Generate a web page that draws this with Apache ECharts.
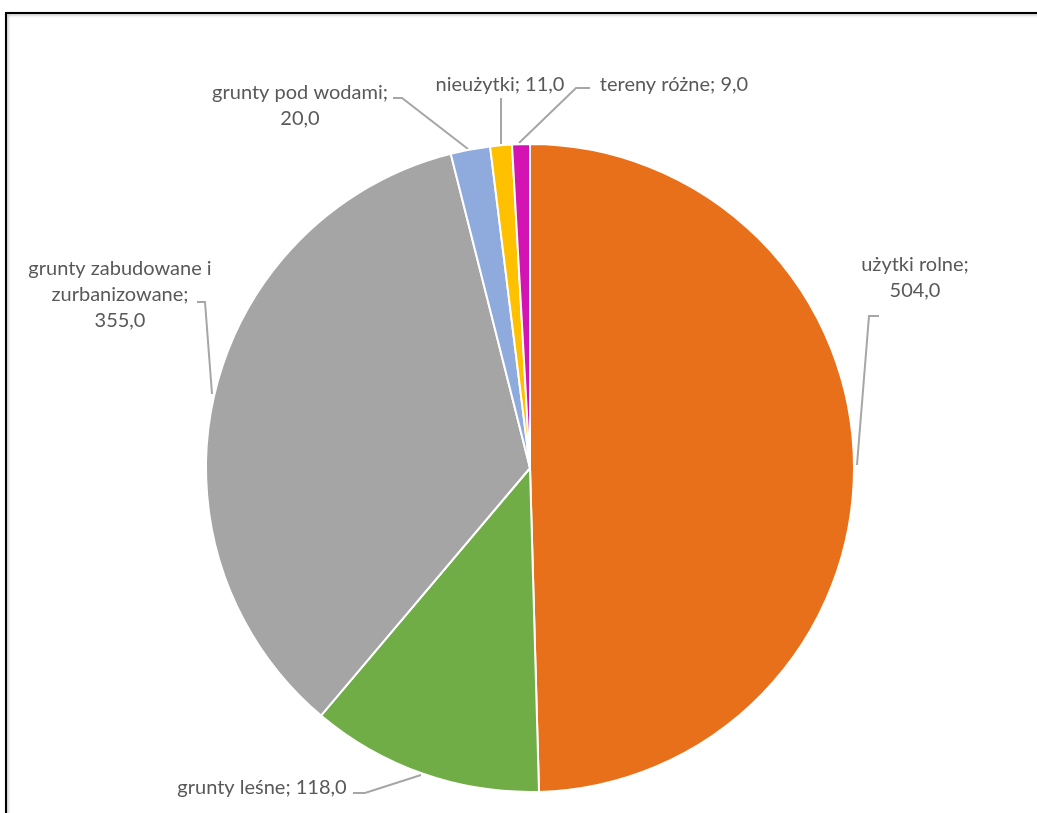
<!DOCTYPE html>
<html>
<head>
<meta charset="utf-8">
<script src="https://cdn.jsdelivr.net/npm/echarts@6/dist/echarts.min.js"></script>
<style>
html,body{margin:0;padding:0;background:#fff;}
#chart{width:1037px;height:813px;}
</style>
</head>
<body>
<div id="chart"></div>
<script>
const categories = ['użytki rolne', 'grunty leśne', 'grunty zabudowane i zurbanizowane', 'grunty pod wodami', 'nieużytki', 'tereny różne'];
const values = [504.0, 118.0, 355.0, 20.0, 11.0, 9.0];
const colors = ['#E8701A', '#70AD47', '#A5A5A5', '#8FAADC', '#FFC000', '#D413B3'];
const labelTexts = [
  'użytki rolne;\n504,0',
  'grunty leśne; 118,0',
  'grunty zabudowane i\nzurbanizowane;\n355,0',
  'grunty pod wodami;\n20,0',
  'nieużytki; 11,0',
  'tereny różne; 9,0'
];

// label placement (layout only)
const labelPos = [
  {x: 915, y: 278, lines: [[857, 465], [869, 316], [879, 316]]},
  {x: 262, y: 788, lines: [[421, 775], [365, 793], [353, 793]]},
  {x: 120, y: 295, lines: [[212, 394], [205, 302], [197, 302]]},
  {x: 300, y: 106, lines: [[468, 149], [402, 98], [393, 98]]},
  {x: 500, y: 85, lines: [[501, 144], [501, 98], [501, 98]]},
  {x: 674, y: 85, lines: [[519, 143], [576, 88], [590, 88]]}
];

const chart = echarts.init(document.getElementById('chart'));
chart.setOption({
  animation: false,
  backgroundColor: '#ffffff',
  graphic: [{
    type: 'rect',
    shape: {x: 6, y: 13, width: 1040, height: 820},
    style: {fill: 'none', stroke: '#000000', lineWidth: 2, shadowBlur: 3, shadowColor: 'rgba(0,0,0,0.35)', shadowOffsetX: 1, shadowOffsetY: 1},
    z: 10
  }],
  series: [{
    type: 'pie',
    center: [530, 468],
    radius: 324,
    startAngle: 90,
    clockwise: true,
    avoidLabelOverlap: false,
    itemStyle: {borderColor: '#ffffff', borderWidth: 2},
    label: {
      show: true,
      formatter: p => labelTexts[p.dataIndex],
      fontFamily: 'Lato, "Open Sans", sans-serif',
      fontSize: 20,
      lineHeight: 26,
      color: '#595959',
      align: 'center'
    },
    labelLine: {
      show: true,
      lineStyle: {color: '#A6A6A6', width: 2}
    },
    labelLayout: function (params) {
      const p = labelPos[params.dataIndex];
      return {
        x: p.x,
        y: p.y,
        align: 'center',
        verticalAlign: 'middle',
        labelLinePoints: p.lines
      };
    },
    emphasis: {disabled: true},
    data: categories.map((c, i) => ({name: c, value: values[i], itemStyle: {color: colors[i]}}))
  }]
});
</script>
</body>
</html>
